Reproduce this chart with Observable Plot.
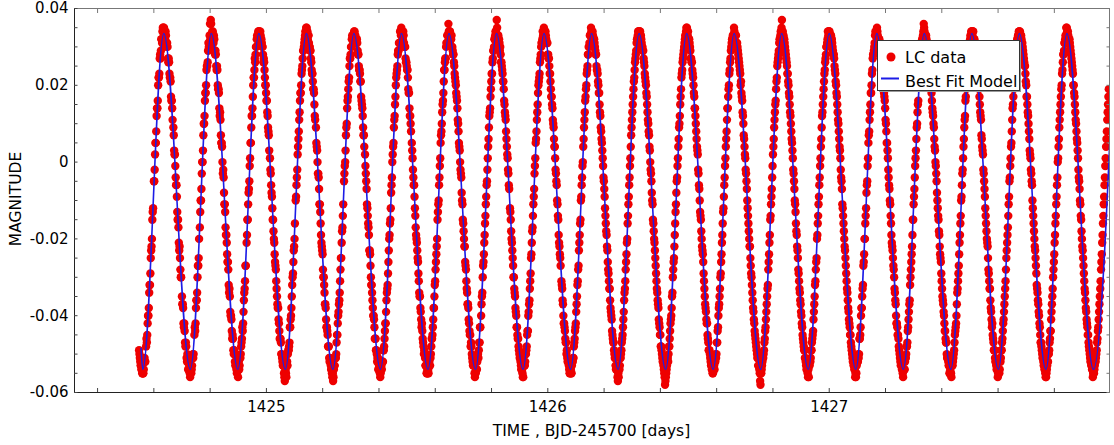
<!DOCTYPE html>
<html><head><meta charset="utf-8">
<script src="https://cdn.jsdelivr.net/npm/d3@7"></script>
<script src="https://cdn.jsdelivr.net/npm/@observablehq/plot@0.6"></script>
<style>
body{margin:0;background:#fff;}
#wrap{position:relative;width:1114px;height:445px;font-family:"DejaVu Sans",sans-serif;}
#wrap svg{position:absolute;left:0;top:0;}
</style></head><body><div id="wrap"></div>
<script>
// ---- light-curve data (uniform cadence, two interleaved exposure sets), magnitudes in milli-mag ----
const lcStart = 1424.5475;     // BJD-2457000 of first sample
const lcCadence = 0.002769;    // days between samples of one set; set B is offset by half a step
const samplesPerCycle = 61;
const lcLeadA = [-49,-51,-53,-54,-55];
const lcLeadB = [-50,-52,-53,-54,-55];
const lcCyclesA = [
[-55,-54,-51,-52,-48,-47,-42,-40,-34,-32,-25,-22,-15,-12,-5,-2,5,8,14,16,22,23,28,29,32,34,35, 35,33,34,31,31,27,27,23,22,17,16,11,9,3,2,-4,-6,-13,-15,-21,-22,-28,-30,-35,-37,-42,-42,-47,-47,-51,-50,-54,-52,-55],
[-53,-55,-53,-50,-50,-45,-44,-38,-36,-30,-27,-20,-17,-10,-7,0,3,10,12,18,20,25,26,31,30,36,37, 33,34,32,33,29,29,25,25,20,19,14,13,7,5,0,-2,-8,-11,-17,-19,-24,-26,-32,-33,-39,-40,-44,-45,-49,-49,-52,-52,-54,-53],
[-56,-52,-53,-51,-48,-46,-44,-39,-34,-31,-27,-21,-15,-11,-7,-1,5,9,12,17,22,24,26,30,32,32,34, 34,32,33,32,30,28,27,24,20,18,16,12,8,3,1,-3,-8,-12,-15,-20,-24,-27,-31,-35,-38,-41,-44,-46,-47,-50,-52,-53,-55,-57],
[-54,-56,-52,-50,-49,-47,-43,-40,-35,-30,-26,-22,-16,-10,-6,-2,4,8,13,18,20,24,27,29,31,33,34, 35,34,33,31,30,29,26,23,21,19,15,11,9,4,0,-3,-7,-11,-16,-21,-23,-28,-30,-34,-37,-41,-43,-45,-48,-51,-51,-53,-54,-56],
[-57,-54,-53,-51,-50,-45,-42,-39,-36,-31,-25,-21,-17,-11,-5,-1,3,9,14,17,21,25,27,30,32,32,33, 34,33,32,32,31,28,25,24,21,17,15,12,7,4,2,-3,-7,-12,-16,-19,-23,-27,-32,-34,-38,-40,-43,-46,-49,-50,-51,-54,-53,-55],
[-55,-53,-52,-52,-49,-46,-42,-39,-34,-32,-26,-20,-16,-12,-6,0,4,9,12,17,22,24,28,29,31,34,33, 33,33,34,31,30,27,26,24,22,18,14,12,8,5,1,-4,-6,-12,-17,-20,-23,-26,-31,-35,-38,-41,-42,-46,-48,-49,-51,-53,-55,-54],
[-54,-53,-51,-51,-48,-46,-43,-38,-35,-31,-26,-22,-15,-11,-6,-1,5,8,13,16,21,24,27,30,31,33,36, 34,34,32,33,30,28,26,23,21,18,16,11,8,4,0,-3,-8,-11,-16,-20,-22,-27,-31,-34,-37,-41,-44,-45,-47,-50,-52,-52,-53,-56],
[-55,-54,-52,-50,-49,-47,-43,-40,-35,-30,-26,-21,-16,-11,-6,-2,4,9,13,17,21,23,27,29,32,33,34, 37,33,33,32,29,28,26,24,21,19,15,12,8,4,1,-3,-7,-12,-15,-20,-23,-27,-30,-34,-38,-40,-43,-46,-48,-50,-51,-53,-54,-55],
[-56,-53,-53,-50,-49,-45,-44,-39,-36,-31,-25,-21,-17,-11,-7,-1,5,8,13,18,21,23,27,30,31,34,33, 34,34,33,31,31,28,27,23,21,17,15,11,9,4,1,-3,-6,-11,-15,-21,-24,-27,-31,-33,-37,-42,-43,-46,-47,-49,-52,-52,-54,-55],
[-54,-55,-52,-51,-48,-46,-43,-39,-35,-31,-27,-21,-16,-10,-6,-1,4,9,13,17,20,24,28,30,31,33,35, 34,34,32,32,30,28,25,24,21,18,15,12,8,5,1,-4,-7,-12,-16,-19,-23,-28,-31,-33,-38,-40,-44,-46,-47,-50,-51,-54,-53,-56],
[-55,-53,-53,-51,-49,-46,-43,-39,-34,-31,-26,-21,-16,-11,-6,-1,4,9,13,17,21,24,27,29,32,33,34, 33,34,33,31,30,29,26,23,21,18,15,11,8,4,0,-3,-8,-11,-16,-20,-23,-27,-31,-34,-37,-41,-43,-45,-48,-50,-52,-53,-55,-58],
[-56,-54,-52,-52,-48,-46,-42,-40,-35,-30,-26,-22,-16,-11,-5,-1,4,9,12,17,22,24,27,29,31,33,34, 35,33,32,32,30,27,26,24,22,18,14,12,8,4,2,-3,-7,-13,-15,-20,-23,-26,-31,-35,-38,-41,-42,-46,-49,-49,-51,-53,-54,-55],
[-54,-53,-52,-50,-50,-47,-43,-38,-35,-30,-26,-21,-16,-12,-6,-1,4,8,14,17,20,24,27,30,32,33,33, 34,33,33,31,30,28,26,24,20,18,16,12,7,4,1,-3,-7,-12,-16,-20,-22,-27,-30,-34,-38,-41,-44,-46,-48,-50,-51,-53,-54,-57],
[-55,-54,-52,-51,-49,-46,-43,-39,-35,-32,-26,-21,-15,-11,-7,-1,4,9,13,16,21,25,27,29,32,33,34, 37,34,33,32,30,28,26,23,21,18,15,12,8,5,1,-3,-7,-11,-16,-19,-23,-28,-31,-34,-37,-40,-43,-46,-48,-49,-51,-53,-53,-55],
[-54,-53,-52,-51,-49,-46,-44,-39,-35,-31,-26,-20,-16,-11,-6,-1,4,9,13,17,21,24,27,30,31,34,34, 34,33,33,32,30,28,27,24,21,18,15,11,8,4,1,-4,-7,-12,-16,-20,-23,-27,-31,-34,-38,-41,-43,-45,-48,-50,-52,-53,-54,-56],
[-56,-53,-52,-50,-50,-46,-43,-38,-35,-32,-26,-20,-16,-12,-6,-1,5,8,13,18,20,24,28,29,31,34,33, 35,33,32,32,30,27,27,24,20,18,16,11,8,5,1,-4,-7,-11,-16,-21,-23,-27,-30,-34,-37,-42,-43,-45,-48,-50,-52,-52,-54,-55],
[-54,-54,-52,-51,-48,-47,-43,-39,-36,-30,-26,-22,-15,-11,-7,-1,3,9,13,16,22,24,26,30,32,33,36, 34,33,33,31,31,28,25,24,22,18,14,12,9,4,0,-3,-8,-12,-15,-19,-24,-26,-31,-35,-37,-40,-44,-46,-47,-51,-51,-53,-55,-54],
[-55,-53,-53,-51,-49,-45,-43,-40,-34,-31,-27,-21,-16,-10,-6,-2,4,9,12,17,21,25,27,29,31,33,34, 34,34,32,32,29,29,26,23,21,19,15,12,7,4,2,-3,-7,-12,-16,-20,-22,-28,-31,-33,-38,-41,-42,-46,-49,-49,-52,-53,-53,-56],
[-54,-55,-51,-51,-49,-46,-42,-39,-35,-31,-25,-21,-17,-11,-5,-1,4,8,14,17,21,23,27,30,32,33,34, 33,33,33,31,30,28,26,25,21,17,15,12,8,3,1,-3,-6,-12,-16,-20,-23,-27,-32,-34,-37,-40,-43,-47,-48,-50,-51,-53,-54,-55],
[-56,-54,-52,-50,-49,-46,-44,-39,-35,-30,-26,-21,-16,-11,-6,0,4,9,13,17,20,24,28,29,31,33,35, 34,34,32,32,30,28,26,24,20,18,15,11,8,5,1,-4,-7,-11,-15,-20,-23,-27,-31,-34,-38,-41,-43,-45,-48,-50,-52,-53,-54,-56],
[-55,-54,-52,-51,-49,-46,-43,-39,-35,-31,-26,-21,-16,-11,-6,-1,4,8,13,17]
];
const lcCyclesB = [
[-55,-52,-52,null,-46,-45,-40,-38,-32,-29,-23,-20,-13,null,-5,2,5,12,14,20,22,27,27,32,31,35,34, 34,32,33,30,30,26,26,22,21,16,14,null,7,2,-1,-6,-9,-15,-17,-23,-25,-30,null,-37,-38,-43,-44,-48,-48,-52,-51,-54,-53,-56],
[-54,-54,-51,-51,null,-43,-42,-36,-34,-27,-25,null,-13,-10,-3,0,7,10,16,18,24,25,29,30,33,32,36, 33,34,31,32,28,28,24,24,19,18,12,11,5,4,-3,-4,-11,-13,-19,-21,-26,-28,-34,-35,-40,-41,-46,-46,-50,-50,-53,-52,-55,-54],
[-53,-54,-51,-50,-47,-43,-42,-36,-33,-27,null,-19,-15,-8,-5,1,5,12,14,20,22,27,28,30,33,32,34, 33,34,31,31,30,26,26,22,20,16,13,9,7,null,-2,-6,-9,-15,-18,-21,-26,-28,-33,-37,-38,-42,-46,-46,-50,-51,-53,-53,-56,-55],
[-55,-52,-53,-49,-48,-43,-41,-38,-32,-29,-23,-20,null,-9,-4,2,6,11,16,18,23,25,29,30,32,34,35, 34,32,33,30,29,27,24,23,19,18,12,null,5,3,-3,-4,-11,-13,-19,-22,-24,-30,-32,-37,-38,-43,-44,-48,-48,-52,-52,-54,-55,-55],
[-56,-53,-51,-51,-47,-45,-40,-37,-34,-28,-25,-18,-14,null,-3,0,7,10,16,19,22,27,28,30,33,33,33, 34,33,31,32,29,28,24,23,21,16,14,9,7,null,-1,-5,-11,-14,-17,-23,-24,-30,-32,-36,-40,-41,-46,-46,-49,-52,-51,-54,-53,-56],
[-54,-54,-52,-49,-48,-44,-42,-36,-33,-29,-23,-19,-15,-8,-4,2,5,11,15,20,23,25,29,31,31,34,35, 33,32,33,30,30,26,25,24,19,18,12,10,null,3,-2,-6,-9,-14,-19,-21,-25,-29,-34,-35,-39,-43,-44,-47,-50,-50,-53,-53,-55,-55],
[-55,-52,-53,-50,-46,-45,-41,-38,-32,-28,-24,-20,-13,-10,-4,1,7,10,15,18,24,26,27,31,33,33,34, 34,33,32,30,29,28,25,22,20,17,14,10,5,3,-2,-4,-10,-15,-18,-22,-26,-28,-33,-37,-38,-42,-45,-48,-48,-51,-53,-52,-55,-55],
[-54,-54,-51,-51,-47,-43,null,-37,-34,-27,-24,-19,-14,-9,-5,1,6,12,14,19,23,26,29,30,32,34,33, 35,33,31,31,30,26,25,23,21,16,13,11,6,2,-2,-6,null,-13,-18,-21,-25,-30,-33,-35,-39,-43,-45,-46,-49,-51,-52,-54,-54,-56],
[-53,-53,-52,-50,-48,-44,-40,-37,-33,-29,-24,-18,-14,-9,-3,1,6,11,15,20,22,26,28,31,32,33,35, 33,34,32,31,28,27,25,23,19,17,14,10,6,4,-2,-5,-10,-14,-19,-22,-25,null,-32,-36,-40,-42,-44,-47,-50,-51,-52,-53,-55,-54],
[-55,-53,-52,-51,-47,-44,-42,-37,-32,-28,-23,-19,-15,-9,-4,0,6,11,16,19,23,25,28,30,33,33,34, 33,33,32,31,29,28,24,23,20,18,13,9,6,3,-1,-5,-9,-14,-18,-22,-26,-29,-33,-36,-39,-41,-45,-47,-49,-51,-53,-53,-54,-57],
[-56,-54,-51,-50,-47,-45,-41,-36,-33,-28,-24,-20,-14,-9,-4,1,7,11,15,19,22,26,28,31,32,34,34, 34,33,32,30,29,27,25,22,20,17,13,10,7,3,-2,-5,-10,-15,-18,-21,-25,-29,-33,-36,-38,-42,-45,-48,-49,-51,-52,-54,-56,-57],
[-55,-53,-51,-50,-48,-44,-41,-38,-34,-28,-25,-19,-13,-8,-4,1,6,10,15,19,23,26,28,30,32,33,35, 33,34,32,31,29,27,26,23,20,17,14,10,6,3,-2,-6,-10,-14,-18,-22,-24,-29,-33,-37,-39,-42,-45,-47,-49,-50,-52,-53,-54,-55],
[-54,-54,-52,-51,-47,-44,-40,-37,-33,-29,-24,-19,-13,-9,-4,1,6,11,14,19,23,26,29,31,32,33,35, 33,33,31,31,29,27,25,23,21,17,13,10,6,2,-2,-5,-10,-14,-18,-22,-25,-29,-32,-36,-39,-42,-45,-47,-49,-51,-53,-53,-55,-58],
[-55,-53,-51,-50,-47,-44,-41,-37,-33,-28,-24,-19,-14,-9,-4,2,6,11,15,19,22,26,28,31,32,34,35, 34,33,32,31,29,27,25,23,20,17,13,10,6,3,-2,-5,-10,-13,-18,-22,-25,-29,-33,-36,-39,-42,-45,-47,-49,-51,-52,-54,-54,-56],
[-56,-53,-52,-49,-47,-45,-41,-37,-32,-28,-25,-19,-14,-9,-4,1,6,12,15,19,23,26,28,30,32,33,34, 33,33,32,31,29,28,25,23,20,17,13,10,6,3,-2,-5,-11,-14,-18,-22,-25,-29,-33,-36,-39,-42,-45,-47,-49,-51,-52,-53,-54,-55],
[-55,-52,-52,-51,-46,-45,-40,-38,-33,-27,-24,-20,-14,-8,-5,1,7,11,15,18,23,27,28,30,33,33,34, 34,32,32,30,30,27,24,23,20,17,14,10,5,3,-2,-6,-10,-14,-19,-22,-25,-28,-33,-36,-40,-42,-45,-46,-49,-51,-53,-53,-54,-56],
[-54,-54,-51,-50,-48,-44,-41,-37,-32,-28,-24,-19,-15,-9,-4,1,6,10,15,20,22,26,29,31,32,34,35, 33,33,32,31,28,27,25,23,21,16,13,10,6,3,-1,-5,-10,-14,-18,-22,-25,-29,-33,-36,-39,-42,-44,-47,-50,-51,-52,-53,-55,-55],
[-56,-53,-52,-50,-47,-44,-42,-37,-33,-29,-24,-19,-14,-9,-3,1,6,11,16,19,23,26,28,30,32,33,34, 33,34,32,31,29,27,25,22,20,17,13,11,6,3,-2,-5,-9,-14,-18,-21,-25,-29,-33,-36,-39,-43,-45,-47,-49,-51,-52,-54,-54,-55],
[-54,-54,-52,-49,-47,-44,-41,-37,-33,-28,-23,-19,-14,-9,-4,1,5,11,15,19,23,26,28,31,32,33,34, 34,33,32,31,29,27,25,23,20,17,13,10,6,2,-2,-5,-10,-14,-18,-22,-25,-29,-33,-36,-39,-42,-45,-47,-49,-51,-52,-53,-54,-56],
[-55,-53,-52,-50,-47,-44,-41,-37,-33,-28,-24,-19,-14,-9,-4,1,6,11,15,19,23,26,28,31,32,33,35, 33,33,32,31,29,27,25,23,20,17,13,10,6,3,-2,-5,-10,-14,-18,-22,-25,-29,-33,-36,-39,-42,-45,-47,-49,-51,-52,-53,-54,-55],
[-55,-53,-52,-50,-47,-44,-41,-37,-33,-28,-24,-19,-14,-9,-4,1,6,11,15,19]
];

// ---- best-fit model: extrema of each pulsation cycle ----
const modelStartT = 1424.5545, modelStartMag = -0.0485;
const troughTimes = [1424.5606,1424.7295,1424.8984,1425.0673,1425.2362,1425.4052,1425.5741,1425.7430,1425.9119,1426.0808,1426.2497,1426.4186,1426.5875,1426.7564,1426.9253,1427.0943,1427.2632,1427.4321,1427.6010,1427.7699,1427.9388];
const peakTimes   = [1424.6352,1424.8041,1424.9730,1425.1419,1425.3108,1425.4798,1425.6487,1425.8176,1425.9865,1426.1554,1426.3243,1426.4932,1426.6621,1426.8310,1426.9999,1427.1689,1427.3378,1427.5067,1427.6756,1427.8445,1428.0134];
const troughMag = -0.054, peakMag = 0.0335;

// ---- axes ----
const xDomain = [1424.318, 1427.996];
const yDomain = [-0.06, 0.04];
const xMajorTicks = [1425, 1426, 1427];
const xMinorTicks = [1424.4,1424.6,1424.8,1425,1425.2,1425.4,1425.6,1425.8,1426,1426.2,1426.4,1426.6,1426.8,1427,1427.2,1427.4,1427.6,1427.8];
const yMajorTicks = [-0.06, -0.04, -0.02, 0, 0.02, 0.04];
const yMinorTicks = [-0.06,-0.055,-0.05,-0.045,-0.04,-0.035,-0.03,-0.025,-0.02,-0.015,-0.01,-0.005,0,0.005,0.01,0.015,0.02,0.025,0.03,0.035,0.04];
const xTitle = "TIME , BJD-245700 [days]";
const yTitle = "MAGNITUDE";
const legendLabels = ["LC data", "Best Fit Model"];

// build tables
const lc = [];
function addSet(lead, cycles, offset) {
  lead.forEach((m, i) => { if (m !== null) lc.push({t: lcStart + (i + offset) * lcCadence, m: m / 1000}); });
  cycles.forEach((row, k) => row.forEach((m, j) => {
    if (m !== null) lc.push({t: lcStart + (lead.length + samplesPerCycle * k + j + offset) * lcCadence, m: m / 1000});
  }));
}
addSet(lcLeadA, lcCyclesA, 0);
addSet(lcLeadB, lcCyclesB, 0.5);
lc.sort((a, b) => a.t - b.t);
const model = [{t: modelStartT, m: modelStartMag}];
troughTimes.forEach((t, k) => {
  model.push({t, m: troughMag});
  if (peakTimes[k] !== undefined) model.push({t: peakTimes[k], m: peakMag});
});

const red = "#ee0000", blue = "#1c1ce6";
const chart = Plot.plot({
  width: 1114, height: 445,
  marginLeft: 74, marginRight: 5, marginTop: 8, marginBottom: 53,
  x: {domain: xDomain},
  y: {domain: yDomain},
  style: {fontFamily: "DejaVu Sans", fontSize: "15px", color: "#000", background: "#fff"},
  marks: [
    Plot.dot(lc, {x: "t", y: "m", r: 4.2, fill: red, stroke: "none", clip: true}),
    Plot.line(model, {x: "t", y: "m", stroke: blue, strokeWidth: 1.6, curve: "monotone-x", clip: true}),
    Plot.frame({stroke: "#777"}),
    Plot.ruleX([xDomain[0]], {stroke: "#222"}),
    Plot.ruleY([yDomain[0]], {stroke: "#222"}),
    Plot.axisY(yMajorTicks, {anchor: "left", tickSize: 0, tickPadding: 6, tickFormat: d => d === 0 ? "0" : d.toFixed(2), label: null}),
    Plot.axisY(yMinorTicks, {anchor: "left", tickSize: -3.5, tickFormat: () => "", label: null, stroke: "#444"}),
    Plot.axisY(yMinorTicks, {anchor: "right", tickSize: -3.5, tickFormat: () => "", label: null, stroke: "#777"}),
    Plot.axisX(xMajorTicks, {anchor: "bottom", tickSize: 0, tickPadding: 9, tickFormat: d => String(d), label: null}),
    Plot.axisX(xMinorTicks, {anchor: "bottom", tickSize: -4, tickFormat: () => "", label: null, stroke: "#444"}),
    Plot.axisX(xMinorTicks, {anchor: "top", tickSize: -4, tickFormat: () => "", label: null, stroke: "#777"})
  ]
});
const wrap = document.getElementById("wrap");
wrap.appendChild(chart);

// overlay: axis titles and legend
const ns = "http://www.w3.org/2000/svg";
const ov = document.createElementNS(ns, "svg");
ov.setAttribute("width", 1114); ov.setAttribute("height", 445);
ov.style.pointerEvents = "none";
ov.innerHTML = `
<g font-family="DejaVu Sans" fill="#000">
  <text x="591.5" y="435.5" font-size="15.5" text-anchor="middle">${xTitle}</text>
  <text transform="translate(20.5,199) rotate(-90)" font-size="15.5" text-anchor="middle">${yTitle}</text>
  <rect x="879" y="42" width="142" height="50" fill="#999"/>
  <rect x="877.5" y="40.5" width="142" height="50" fill="#fff" stroke="#333" stroke-width="1"/>
  <circle cx="891" cy="57" r="4.5" fill="${red}"/>
  <line x1="881" x2="899" y1="78.5" y2="78.5" stroke="${blue}" stroke-width="2"/>
  <text x="905" y="62.7" font-size="16">${legendLabels[0]}</text>
  <text x="905" y="87.3" font-size="16">${legendLabels[1]}</text>
</g>`;
wrap.appendChild(ov);
</script>
</body></html>
